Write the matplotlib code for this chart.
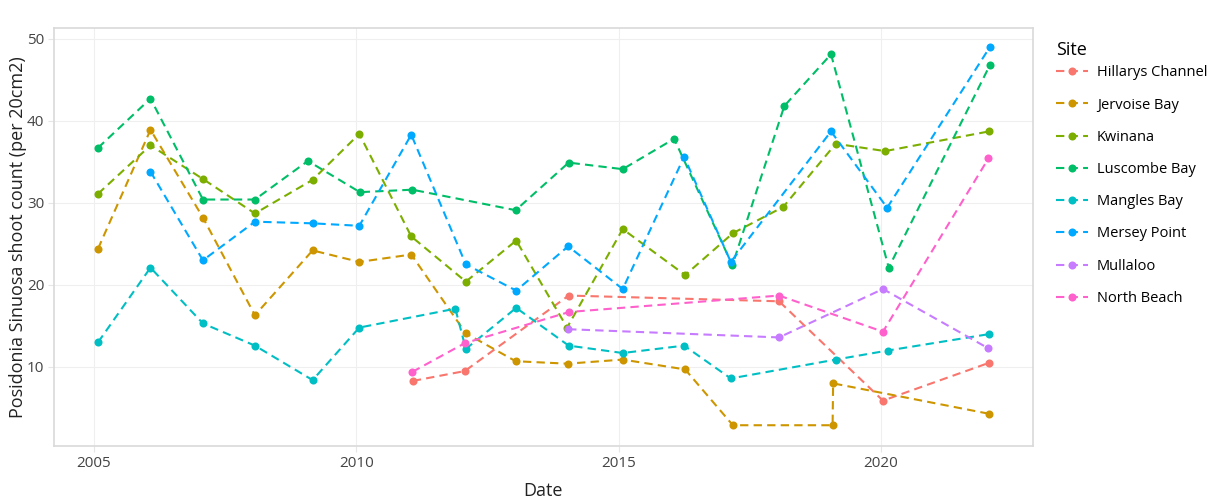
import matplotlib
matplotlib.use("Agg")
import matplotlib.pyplot as plt

plt.rcParams['font.family'] = ['Open Sans', 'DejaVu Sans']

sites = ['Hillarys Channel', 'Jervoise Bay', 'Kwinana', 'Luscombe Bay',
         'Mangles Bay', 'Mersey Point', 'Mullaloo', 'North Beach']
colours = ['#F8766D', '#CD9600', '#7CAE00', '#00BE67',
           '#00BFC4', '#00A9FF', '#C77CFF', '#FF61CC']

# survey dates as decimal years, counts per site
hillarys_x = [2011.08, 2012.07, 2014.05, 2018.06, 2020.04, 2022.06]
hillarys_y = [8.3, 9.5, 18.7, 18.0, 5.9, 10.5]

jervoise_x = [2005.08, 2006.08, 2007.08, 2008.07, 2009.17, 2010.06, 2011.05, 2012.09,
              2013.04, 2014.03, 2015.08, 2016.27, 2017.18, 2019.08, 2019.09, 2022.06]
jervoise_y = [24.4, 38.9, 28.2, 16.3, 24.2, 22.8, 23.7, 14.1,
              10.7, 10.4, 10.9, 9.7, 2.9, 2.9, 8.0, 4.3]

kwinana_x = [2005.08, 2006.08, 2007.08, 2008.07, 2009.17, 2010.06, 2011.05, 2012.09,
             2013.05, 2014.02, 2015.08, 2016.27, 2017.18, 2018.14, 2019.14, 2020.08, 2022.06]
kwinana_y = [31.1, 37.0, 32.9, 28.7, 32.8, 38.4, 25.9, 20.4,
             25.4, 14.8, 26.8, 21.2, 26.3, 29.5, 37.2, 36.3, 38.7]

luscombe_x = [2005.08, 2006.08, 2007.08, 2008.07, 2009.08, 2010.07, 2011.07, 2013.04,
              2014.05, 2015.08, 2016.06, 2017.17, 2018.16, 2019.05, 2020.15, 2022.08]
luscombe_y = [36.7, 42.7, 30.4, 30.4, 35.1, 31.3, 31.6, 29.1,
              34.9, 34.1, 37.8, 22.4, 41.8, 48.1, 22.1, 46.8]

mangles_x = [2005.08, 2006.08, 2007.08, 2008.07, 2009.17, 2010.06, 2011.89, 2012.09,
             2013.05, 2014.05, 2015.08, 2016.25, 2017.14, 2019.14, 2020.13, 2022.06]
mangles_y = [13.0, 22.1, 15.3, 12.6, 8.4, 14.8, 17.1, 12.2,
             17.2, 12.6, 11.7, 12.6, 8.6, 10.9, 12.0, 14.0]

mersey_x = [2006.08, 2007.08, 2008.07, 2009.17, 2010.06, 2011.05, 2012.09, 2013.05,
            2014.04, 2015.08, 2016.25, 2017.14, 2019.05, 2020.12, 2022.08]
mersey_y = [33.8, 23.0, 27.7, 27.5, 27.2, 38.3, 22.5, 19.3,
            24.7, 19.5, 35.6, 22.8, 38.7, 29.4, 49.0]

mullaloo_x = [2014.04, 2018.06, 2020.04, 2022.04]
mullaloo_y = [14.6, 13.6, 19.5, 12.3]

north_x = [2011.07, 2012.07, 2014.06, 2018.06, 2020.04, 2022.05]
north_y = [9.4, 12.9, 16.7, 18.7, 14.3, 35.4]

series_x = [hillarys_x, jervoise_x, kwinana_x, luscombe_x,
            mangles_x, mersey_x, mullaloo_x, north_x]
series_y = [hillarys_y, jervoise_y, kwinana_y, luscombe_y,
            mangles_y, mersey_y, mullaloo_y, north_y]

fig = plt.figure(figsize=(12.26, 5), dpi=100)
ax = fig.add_axes([0.044, 0.108, 0.7986, 0.836])

for name, col, xs, ys in zip(sites, colours, series_x, series_y):
    ax.plot(xs, ys, color=col, lw=1.5, dashes=(4, 2.5), marker='o',
            markersize=5.8, markeredgewidth=0, label=name)

ax.set_xlim(2004.24, 2022.9)
ax.set_ylim(0.37, 51.3)
ax.set_xticks([2005, 2010, 2015, 2020])
ax.set_xticklabels(['2005', '2010', '2015', '2020'])
ax.set_yticks([10, 20, 30, 40, 50])
ax.grid(True, color='#efefef', lw=0.8)
ax.set_axisbelow(True)
for s in ax.spines.values():
    s.set_color('#d9d9d9')
    s.set_linewidth(1.2)
ax.tick_params(length=4, width=0.8, color='#e6e6e6', labelsize=11,
               labelcolor='#444444', pad=3)

ax.set_xlabel('Date', fontsize=13, color='#222222', labelpad=8)
ax.set_ylabel('Posidonia Sinuosa shoot count (per 20cm2)', fontsize=13,
              color='#222222', labelpad=0)

leg = ax.legend(title='Site', loc='upper left', bbox_to_anchor=(1.01, 1.0),
                frameon=False, fontsize=10.5, title_fontsize=13,
                handlelength=2.2, labelspacing=1.18, handletextpad=0.6)
leg._legend_box.align = 'left'
leg._legend_box.sep = 4.5

fig.savefig('out.png', dpi=100)
